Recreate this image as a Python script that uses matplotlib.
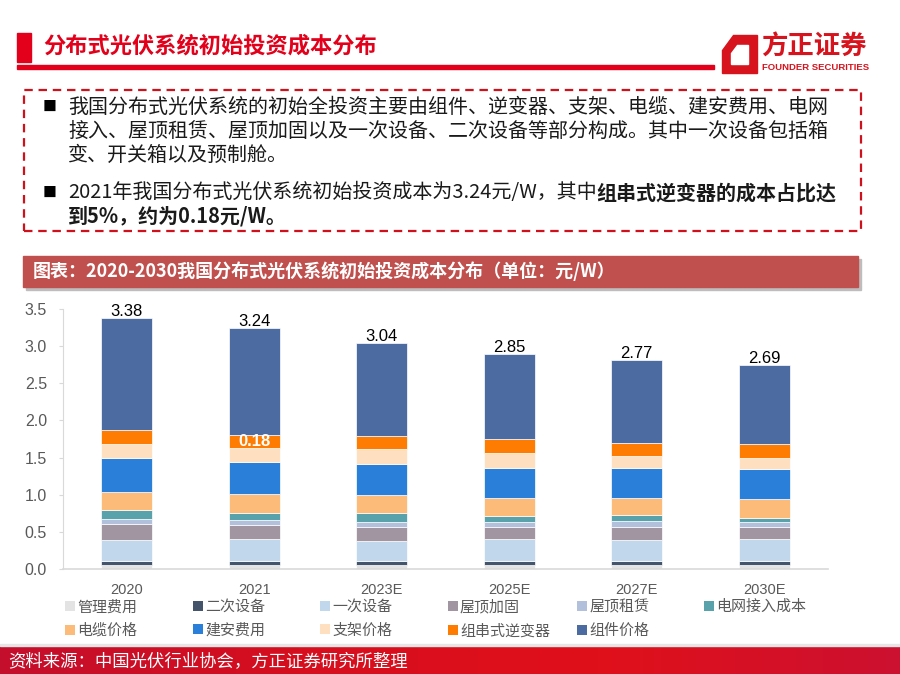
#!/usr/bin/env python3
import numpy as np
import matplotlib
matplotlib.use("Agg")
import matplotlib.pyplot as plt
from matplotlib.patches import Rectangle, Polygon
from matplotlib.colors import LinearSegmentedColormap

W, H = 900, 674

CJK = ["Noto Sans CJK SC", "DejaVu Sans"]
NUM = ["Liberation Sans", "Noto Sans CJK SC", "DejaVu Sans"]
plt.rcParams["font.family"] = CJK

# ---- data (元/W) ----
categories = ["2020", "2021", "2023E", "2025E", "2027E", "2030E"]
mgmt = [0.05, 0.05, 0.05, 0.05, 0.05, 0.05]
secondary = [0.06, 0.06, 0.06, 0.06, 0.06, 0.06]
primary = [0.28, 0.29, 0.27, 0.29, 0.28, 0.29]
roof_reinforce = [0.21, 0.19, 0.18, 0.16, 0.18, 0.16]
roof_rent = [0.07, 0.07, 0.07, 0.07, 0.07, 0.07]
grid_access = [0.12, 0.10, 0.12, 0.09, 0.09, 0.05]
cable = [0.25, 0.25, 0.25, 0.23, 0.22, 0.26]
construction = [0.46, 0.43, 0.42, 0.41, 0.41, 0.41]
bracket = [0.18, 0.19, 0.19, 0.20, 0.16, 0.14]
inverter = [0.19, 0.18, 0.18, 0.19, 0.18, 0.19]
module = [1.51, 1.43, 1.25, 1.14, 1.11, 1.06]
totals = ["3.38", "3.24", "3.04", "2.85", "2.77", "2.69"]

series_names = ["管理费用", "二次设备", "一次设备", "屋顶加固", "屋顶租赁", "电网接入成本",
                "电缆价格", "建安费用", "支架价格", "组串式逆变器", "组件价格"]
series_vals = [mgmt, secondary, primary, roof_reinforce, roof_rent, grid_access,
               cable, construction, bracket, inverter, module]
colors = ["#E4E3E3", "#44546A", "#C0D7EC", "#A095A1", "#B3C0DC", "#5AA2AB",
          "#FDBB79", "#2A80D8", "#FEDFC0", "#FF7C03", "#4C6CA1"]


def fx(px):
    return px / W


def fy(py):
    return 1 - py / H


fig = plt.figure(figsize=(W / 100, H / 100), dpi=100)

# ---- page header ----
RED = "#E2001A"
fig.patches.append(Rectangle((fx(17), fy(62)), fx(14), 29 / H, transform=fig.transFigure,
                             color=RED, zorder=1))
fig.text(fx(43), fy(46), "分布式光伏系统初始投资成本分布", color=RED, fontsize=16,
         fontweight="bold", va="center", ha="left")
fig.patches.append(Rectangle((fx(17), fy(69)), fx(697), 3.5 / H, transform=fig.transFigure,
                             color=RED, zorder=1))

# logo
outer = [(733, 35), (757, 35), (757, 73), (722, 73), (722, 50)]
inner = [(737, 45), (748, 45), (748, 64), (731, 64), (731, 53)]
fig.patches.append(Polygon([(fx(a), fy(b)) for a, b in outer], closed=True,
                           transform=fig.transFigure, color="#D7141E"))
fig.patches.append(Polygon([(fx(a), fy(b)) for a, b in inner], closed=True,
                           transform=fig.transFigure, color="white"))
fig.text(fx(761), fy(47), "方正证券", color="#D7141E", fontsize=19, fontweight="bold",
         va="center", ha="left")
fig.text(fx(762), fy(68), "FOUNDER SECURITIES", color="#D7141E", fontsize=6.8,
         fontweight="bold", va="center", ha="left", family=NUM)

# ---- dashed text box ----
fig.patches.append(Rectangle((fx(24), fy(231)), fx(837), 141 / H, transform=fig.transFigure,
                             fill=False, edgecolor="#D0101B", linewidth=1.6,
                             linestyle=(0, (3.8, 2.6))))

TXT = "#1A1A1A"
body = dict(fontsize=14.4, color=TXT, va="center", ha="left")
fig.text(fx(43), fy(107), "■", fontsize=10, color="black", va="center")
fig.text(fx(68), fy(107), "我国分布式光伏系统的初始全投资主要由组件、逆变器、支架、电缆、建安费用、电网", **body)
fig.text(fx(68), fy(131), "接入、屋顶租赁、屋顶加固以及一次设备、二次设备等部分构成。其中一次设备包括箱", **body)
fig.text(fx(68), fy(155), "变、开关箱以及预制舱。", **body)

fig.text(fx(43), fy(193), "■", fontsize=10, color="black", va="center")
t1 = fig.text(fx(68), fy(193), "2021年我国分布式光伏系统初始投资成本为3.24元/W，其中", **body)
fig.canvas.draw()
bb = t1.get_window_extent(renderer=fig.canvas.get_renderer())
fig.text(bb.x1 / W, fy(193), "组串式逆变器的成本占比达", fontweight="bold", **body)
fig.text(fx(68), fy(216), "到5%，约为0.18元/W。", fontweight="bold", **body)

# ---- chart title bar ----
fig.patches.append(Rectangle((fx(26), fy(290)), fx(835), 31 / H, transform=fig.transFigure,
                             color="#BDBDBD", zorder=1))
fig.patches.append(Rectangle((fx(23), fy(287)), fx(835), 31 / H, transform=fig.transFigure,
                             color="#C0504D", zorder=2))
fig.text(fx(33), fy(271), "图表：2020-2030我国分布式光伏系统初始投资成本分布（单位：元/W）",
         color="white", fontsize=13, fontweight="bold", va="center", ha="left", zorder=3)

# ---- chart ----
ax = fig.add_axes([fx(63), fy(569), fx(828 - 63), (569 - 309) / H])
x = np.arange(len(categories))
bottom = np.zeros(len(categories))
handles = []
for name, vals, c in zip(series_names, series_vals, colors):
    b = ax.bar(x, vals, width=0.4, bottom=bottom, color=c, edgecolor="white",
               linewidth=0.5, label=name)
    handles.append(b)
    bottom += np.array(vals)

for xi, top, lab in zip(x, bottom, totals):
    ax.text(xi, top - 0.01, lab, ha="center", va="bottom", fontsize=12, color="black",
            family=NUM, clip_on=False)

# inverter label for 2021
inv_bottom = sum(v[1] for v in series_vals[:9])
ax.text(1, inv_bottom + inverter[1] / 2, "0.18", ha="center", va="center", fontsize=12,
        color="white", fontweight="bold", family=NUM)

ax.set_xlim(-0.5, len(categories) - 0.5)
ax.set_ylim(0, 3.5)
ax.set_yticks(np.arange(0, 3.51, 0.5))
ax.set_yticklabels([f"{v:.1f}" for v in np.arange(0, 3.51, 0.5)], family=NUM)
ax.set_xticks(x)
ax.set_xticklabels(categories, family=NUM)
ax.tick_params(axis="y", colors="#D9D9D9", labelcolor="#595959", labelsize=11.5,
               length=3, width=0.8, pad=8.5)
ax.tick_params(axis="x", length=0, labelcolor="#595959", labelsize=10.5, pad=10)
for s in ["top", "right"]:
    ax.spines[s].set_visible(False)
ax.spines["left"].set_color("#D9D9D9")
ax.spines["bottom"].set_color("#D9D9D9")
ax.spines["bottom"].set_linewidth(1.2)
ax.patch.set_alpha(0)

# legend: one small legend per column, evenly spaced like the original
col_x = [65, 193, 320, 448, 577, 704]
for j, cx in enumerate(col_x):
    idx = [k for k in (j, j + 6) if k < len(handles)]
    leg = fig.legend([handles[k] for k in idx], [series_names[k] for k in idx],
                     loc="upper left", bbox_to_anchor=(fx(cx), fy(600)), frameon=False,
                     fontsize=10.8, handlelength=0.65, handleheight=0.65,
                     handletextpad=0.15, labelspacing=0.62, borderpad=0, borderaxespad=0)
    for t in leg.get_texts():
        t.set_color("#595959")
    for p in leg.get_patches():
        p.set_edgecolor("none")

# ---- footer ----
fax = fig.add_axes([0, 0, 1, 28 / H])
grad = np.linspace(0, 1, 256).reshape(1, -1)
cmap = LinearSegmentedColormap.from_list("ft", ["#C40F2C", "#D60E1E", "#E0101A", "#CC1030"])
fax.imshow(grad, aspect="auto", cmap=cmap, extent=[0, 1, 0, 1])
fax.set_axis_off()
fig.patches.append(Rectangle((0, fy(646)), 1, 2 / H, transform=fig.transFigure,
                             color="#E6E6E6"))
fig.text(fx(8), fy(661), "资料来源：中国光伏行业协会，方正证券研究所整理", color="white",
         fontsize=12.5, va="center", ha="left")

fig.savefig("out.png", dpi=100)
